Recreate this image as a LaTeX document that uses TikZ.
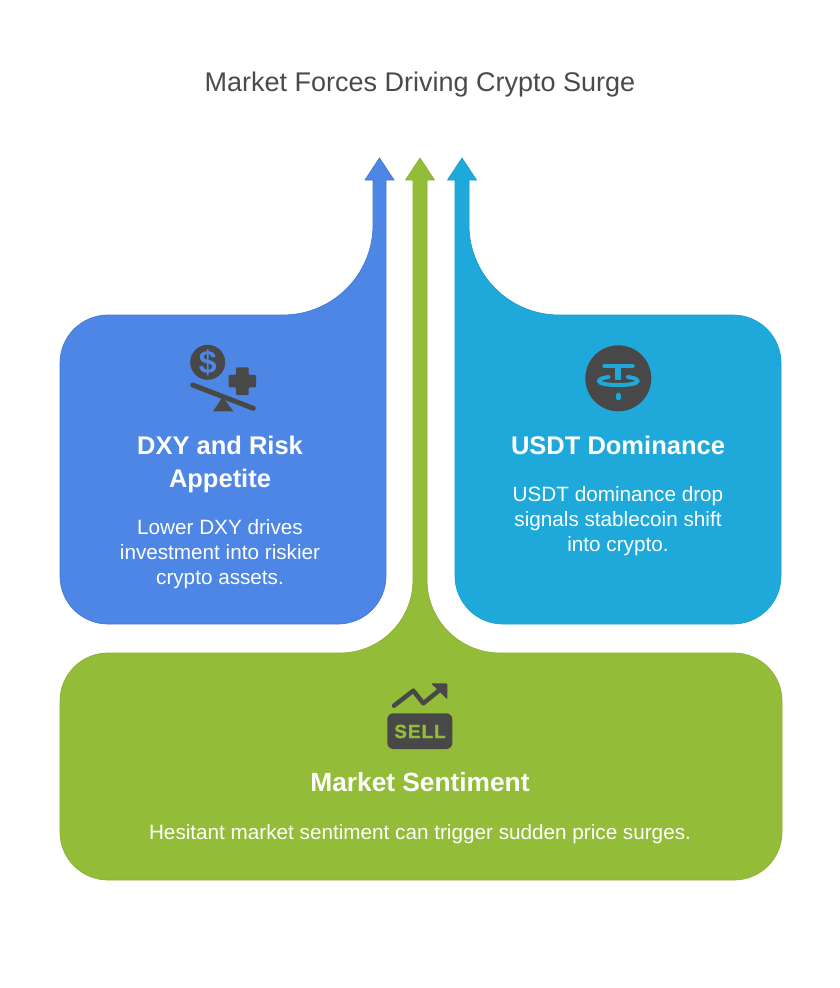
\documentclass[tikz,border=0pt]{standalone}
\usepackage{fontspec}
\setmainfont{Liberation Sans}
\newfontfamily\sellfont{Liberation Sans}[BoldFeatures={FakeBold=1.3,LetterSpace=5}]
\definecolor{dxyblue}{HTML}{4D86E5}
\definecolor{dxyedge}{HTML}{4479D6}
\definecolor{mktgreen}{HTML}{93BC38}
\definecolor{mktedge}{HTML}{8BB233}
\definecolor{usdtcyan}{HTML}{1EA9DA}
\definecolor{usdtedge}{HTML}{1A9FCF}
\definecolor{icondark}{HTML}{484848}
\definecolor{titlegray}{HTML}{4A4A4A}
\begin{document}
\begin{tikzpicture}[x=1pt,y=-1pt]

  \useasboundingbox (0,0) rectangle (840,988);

  % node styles
  \tikzstyle{Title}=[
  anchor=center,
  text=titlegray,
  inner sep=0pt,
  font=\fontsize{27}{31}\selectfont]

  \tikzstyle{Head}=[
  anchor=center,
  text=white,
  align=center,
  inner sep=0pt,
  font=\fontsize{25.5}{33}\selectfont\bfseries]

  \tikzstyle{Body}=[
  anchor=center,
  text=white,
  align=center,
  inner sep=0pt,
  font=\fontsize{20.7}{25}\selectfont]

  \tikzstyle{Icon}=[fill=icondark,draw=none]
  \tikzstyle{Stroke}=[draw=icondark,line cap=round,line join=round]

  % panels with their arrows
  \draw[fill=dxyblue,draw=dxyedge,line width=0.7pt]
    (379.5,158) -- (394,180) -- (386,180)
    [rounded corners=48pt] -- (386,624) -- (60,624) -- (60,315)
    [sharp corners] -- (283,315) arc[start angle=-90,end angle=0,radius=90pt]
    -- (373,180) -- (365,180) -- cycle;

  \draw[fill=usdtcyan,draw=usdtedge,line width=0.7pt]
    (462,158) -- (476.5,180) -- (469,180) -- (469,225)
    arc[start angle=180,end angle=270,radius=90pt]
    [rounded corners=48pt] -- (781,315) -- (781,624) -- (455,624)
    [sharp corners] -- (455,180) -- (447.5,180) -- cycle;

  \draw[fill=mktgreen,draw=mktedge,line width=0.7pt]
    (420,158) -- (434.5,180) -- (427,180) -- (427,580)
    arc[start angle=180,end angle=270,radius=73pt]
    [rounded corners=48pt] -- (782,653) -- (782,880) -- (60,880) -- (60,653)
    [sharp corners] -- (340,653) arc[start angle=-90,end angle=0,radius=73pt]
    -- (413,180) -- (405.5,180) -- cycle;

  % scale icon
  \fill[Icon] (207.7,362.3) circle[radius=17.5pt];
  \node[text=dxyblue,inner sep=0pt,font=\fontsize{32}{32}\selectfont\bfseries] (D) at (207.7,362.8) {\$};
  \draw[Icon,rounded corners=1pt]
    (236,367.3) -- (248.6,367.3) -- (248.6,374.8) -- (256,374.8) -- (256,387.4)
    -- (248.6,387.4) -- (248.6,395) -- (236,395) -- (236,387.4) -- (228.7,387.4)
    -- (228.7,374.8) -- (236,374.8) -- cycle;
  \draw[Stroke,line width=5pt] (192.7,385) -- (253.3,408.3);
  \fill[Icon] (222.7,397) -- (233.3,411.3) -- (213,411.3) -- cycle;

  % tether icon
  \fill[Icon] (618.3,378.3) circle[radius=33pt];
  \draw[draw=usdtcyan,line width=4.5pt,line cap=round] (604.5,366) -- (632.5,366);
  \draw[draw=usdtcyan,line width=6pt] (618.3,366) -- (618.3,380);
  \draw[draw=usdtcyan,line width=4pt,line cap=round]
    (608.5,377) .. controls (602,377.8) and (599,379.5) .. (599,381)
    .. controls (599,383.8) and (608,385) .. (618.3,385)
    .. controls (628.5,385) and (637.5,383.8) .. (637.5,381)
    .. controls (637.5,379.5) and (634.5,377.8) .. (628,377);
  \draw[draw=usdtcyan,line width=4.5pt,line cap=round] (618.3,395) -- (618.3,398);

  % sell icon
  \draw[Icon,rounded corners=6pt] (387.3,713.3) rectangle (452.3,749);
  \node[text=mktgreen,inner sep=0pt,font=\fontsize{19}{19}\selectfont\sellfont\bfseries] (S) at (420,731.5) {SELL};
  \draw[Stroke,line width=4.5pt] (394,705.7) -- (413.3,690.7) -- (423.3,703.3) -- (441.7,688.3);
  \draw[Icon,rounded corners=1pt] (431,683.3) -- (447.3,683.3) -- (447.3,699.3) -- cycle;

  % texts
  \node[Title] (T) at (420,85) {Market Forces Driving Crypto Surge};

  \node[Head] (DH) at (220,464) {DXY and Risk\\Appetite};
  \node[Body] (DB) at (220,554) {Lower DXY drives\\investment into riskier\\crypto assets.};

  \node[Head] (UH) at (618,445) {USDT Dominance};
  \node[Body] (UB) at (618,521) {USDT dominance drop\\signals stablecoin shift\\into crypto.};

  \node[Head,font=\fontsize{26.3}{33}\selectfont\bfseries] (MH) at (420,782) {Market Sentiment};
  \node[Body] (MB) at (420,834) {Hesitant market sentiment can trigger sudden price surges.};

\end{tikzpicture}
\end{document}
